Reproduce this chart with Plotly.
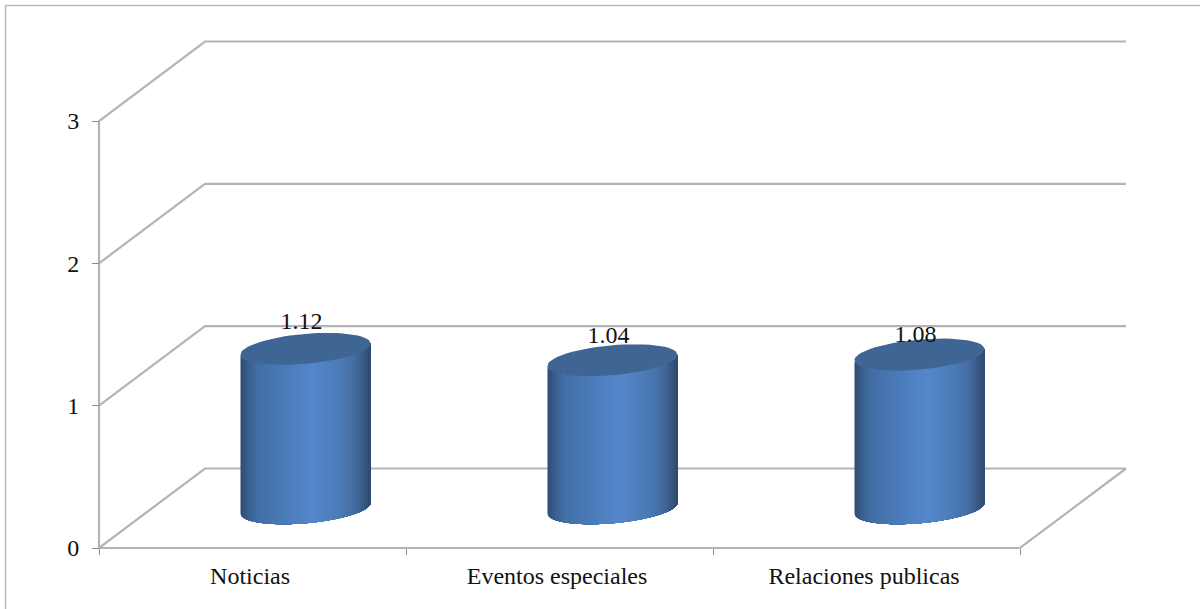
import numpy as np
import plotly.graph_objects as go

# Chart data
categories = ["Noticias", "Eventos especiales", "Relaciones publicas"]
values = [1.12, 1.04, 1.08]
value_ticks = [0, 1, 2, 3]

WIDTH, HEIGHT = 1200, 609

# Pixel scale of the front plane, used to set the axis ranges
PX_PER_CAT = 307.0
PX_PER_VAL = 142.33
ORIGIN_X, ORIGIN_Y = 99.0, 548.0

# Oblique depth of the chart box, in axis units
DEPTH_X = 106.0 / PX_PER_CAT
DEPTH_Y = 79.5 / PX_PER_VAL

x_range = [-ORIGIN_X / PX_PER_CAT, (WIDTH - ORIGIN_X) / PX_PER_CAT]
y_range = [-(HEIGHT - ORIGIN_Y) / PX_PER_VAL, ORIGIN_Y / PX_PER_VAL]

GRID = "#b4b4b4"
TEXT = "#111111"
FONT = "Liberation Serif"
FONT_SIZE = 24

# Cylinder proportions: half width, ellipse half height and ellipse tilt
RADIUS = 65.0 / PX_PER_CAT
MINOR = 15.0 / PX_PER_VAL
TILT = 5.5 / PX_PER_VAL

GRADIENT = [
    (0.00, (47, 78, 116)),
    (0.05, (56, 94, 140)),
    (0.12, (66, 110, 165)),
    (0.35, (76, 124, 186)),
    (0.55, (84, 135, 202)),
    (0.75, (76, 124, 184)),
    (0.88, (68, 108, 160)),
    (0.95, (55, 88, 128)),
    (1.00, (45, 72, 108)),
]


def shade(t):
    stops = [s[0] for s in GRADIENT]
    rgb = [np.interp(t, stops, [s[1][k] for s in GRADIENT]) for k in range(3)]
    return "rgb(%d,%d,%d)" % tuple(round(c) for c in rgb)


def line(xs, ys, width=2.2):
    return go.Scatter(x=xs, y=ys, mode="lines", hoverinfo="skip", showlegend=False,
                      line=dict(color=GRID, width=width))


def near_arc(cx, cy, a, b):
    """Near side of the tilted ellipse, for angles running from a to b."""
    t = np.linspace(a, b, 60)
    return cx + RADIUS * np.cos(t), cy - MINOR * np.sin(t) + TILT * np.cos(t)


fig = go.Figure()

# Back wall gridlines and their diagonals on the side wall
for v in value_ticks:
    fig.add_trace(line([0, DEPTH_X, 3 + DEPTH_X], [v, v + DEPTH_Y, v + DEPTH_Y]))

# Vertical wall edge, floor front edge and floor right edge
fig.add_trace(line([0, 0], [0, value_ticks[-1]]))
fig.add_trace(line([0, 3, 3 + DEPTH_X], [0, 0, DEPTH_Y]))

for i, v in enumerate(values):
    cx = i + 0.5 + DEPTH_X / 2
    base = DEPTH_Y / 2

    # Side of the cylinder: painted left to right, each band reaching the right edge
    for e in np.linspace(-1.0, 1.0, 131)[:-1]:
        start = np.arccos(e)
        xf, yf = near_arc(cx, base, start, 0.0)
        xh, yh = near_arc(cx, base + v, 0.0, start)
        fig.add_trace(go.Scatter(
            x=np.concatenate([xf, xh]), y=np.concatenate([yf, yh]),
            mode="lines", fill="toself", fillcolor=shade((e + 1) / 2),
            line=dict(width=0), hoverinfo="skip", showlegend=False))

    # Top face
    xe, ye = near_arc(cx, base + v, 0.0, 2 * np.pi)
    fig.add_trace(go.Scatter(x=xe, y=ye, mode="lines", fill="toself",
                             fillcolor="#3e6593", line=dict(width=0),
                             hoverinfo="skip", showlegend=False))

# Value labels sitting on the cylinder tops
label_lift = [26.0, 23.0, 19.0]
fig.add_trace(go.Scatter(
    x=[i + 0.5 + DEPTH_X / 2 - 0.013 for i in range(len(values))],
    y=[v + DEPTH_Y / 2 + lift / PX_PER_VAL for v, lift in zip(values, label_lift)],
    mode="text", text=["%.2f" % v for v in values], textposition="middle center",
    textfont=dict(family=FONT, size=FONT_SIZE, color=TEXT),
    hoverinfo="skip", showlegend=False, cliponaxis=False))

fig.update_layout(
    width=WIDTH, height=HEIGHT, autosize=False,
    margin=dict(l=0, r=0, t=0, b=0),
    paper_bgcolor="white", plot_bgcolor="white",
    showlegend=False,
    font=dict(family=FONT, size=FONT_SIZE, color=TEXT),
    xaxis=dict(
        domain=[0, 1], range=x_range, fixedrange=True, showgrid=False, zeroline=False,
        showline=False, anchor="free", position=(HEIGHT - ORIGIN_Y) / HEIGHT,
        tickmode="array", tickvals=[i + 0.492 for i in range(len(categories))],
        ticktext=categories, ticks="", ticklabelstandoff=11,
        minor=dict(tickmode="array", tickvals=list(range(len(categories) + 1)),
                   ticks="outside", ticklen=6, tickwidth=1, tickcolor="#8c8c8c"),
    ),
    yaxis=dict(
        domain=[0, 1], range=y_range, fixedrange=True, showgrid=False, zeroline=False,
        showline=False, anchor="free", position=ORIGIN_X / WIDTH,
        tickmode="array", tickvals=value_ticks, ticktext=[str(t) for t in value_ticks],
        ticks="outside", ticklen=7, tickwidth=1, tickcolor="#8c8c8c", ticklabelstandoff=8,
    ),
    # Outer chart frame
    shapes=[dict(type="path", xref="paper", yref="paper",
                 path="M 0.0046 -0.01 L 0.0046 0.9909 L 1.01 0.9909",
                 line=dict(color="#b9b9b9", width=1.5))],
)

fig.write_html("out.html")
